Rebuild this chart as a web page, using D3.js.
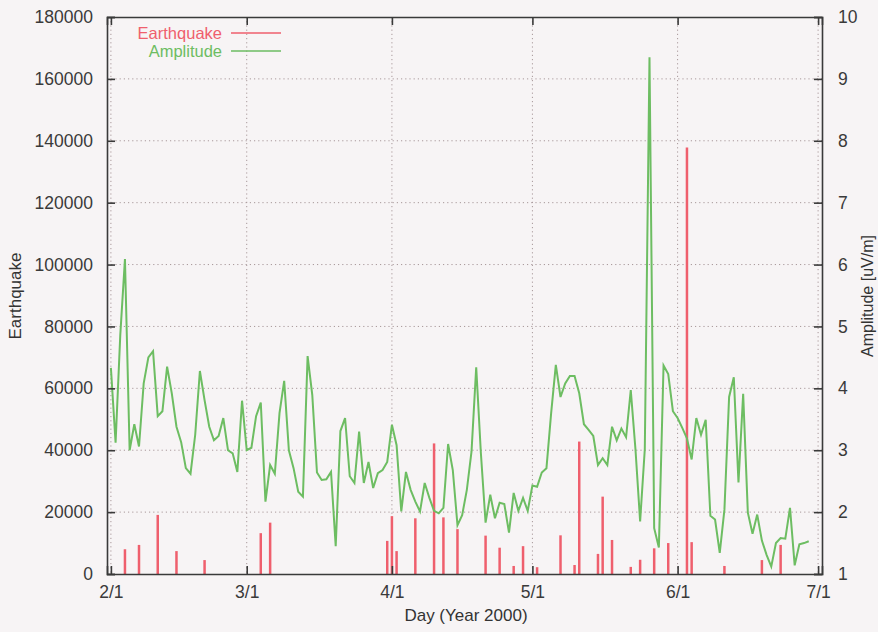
<!DOCTYPE html>
<html>
<head>
<meta charset="utf-8">
<script src="https://cdn.jsdelivr.net/npm/d3@7"></script>
<style>
  body { margin: 0; background: #f7f4f5; }
  svg { display: block; }
  text { font-family: "Liberation Sans", Arial, sans-serif; fill: #333; }
</style>
</head>
<body>
<div id="chart"></div>
<script>
// daily amplitude [uV/m], one value per day starting 2/1/2000
const startDay = new Date(2000, 1, 1);
const amplitude = [
  4.33, 3.12, 4.86, 6.09, 3.0, 3.42, 3.06, 4.08, 4.5, 4.6,
  3.55, 3.63, 4.35, 3.92, 3.38, 3.13, 2.71, 2.62, 3.25, 4.28,
  3.81, 3.38, 3.16, 3.23, 3.52, 3.0, 2.95, 2.65, 3.8, 3.0,
  3.04, 3.55, 3.77, 2.17, 2.76, 2.62, 3.6, 4.12, 3.0, 2.71,
  2.33, 2.25, 4.52, 3.89, 2.64, 2.52, 2.53, 2.65, 1.45, 3.31,
  3.52, 2.58, 2.47, 3.3, 2.47, 2.81, 2.39, 2.63, 2.68, 2.81,
  3.41, 3.08, 2.01, 2.65, 2.36, 2.17, 2.01, 2.47, 2.23, 2.02,
  1.98, 2.07, 3.1, 2.68, 1.79, 1.95, 2.36, 2.98, 4.34, 2.95,
  1.83, 2.28, 1.9, 2.15, 2.13, 1.67, 2.31, 2.02, 2.23, 2.02,
  2.43, 2.41, 2.64, 2.71, 3.6, 4.38, 3.86, 4.08, 4.2, 4.2,
  3.92, 3.42, 3.33, 3.23, 2.76, 2.87, 2.76, 3.38, 3.16, 3.35,
  3.21, 3.97, 3.02, 1.85, 3.02, 9.35, 1.74, 1.43, 4.37, 4.23,
  3.63, 3.52, 3.36, 3.19, 2.85, 3.52, 3.25, 3.49, 1.94, 1.88,
  1.34, 2.04, 3.86, 4.18, 2.48, 3.91, 1.99, 1.65, 1.96, 1.54,
  1.31, 1.12, 1.5, 1.58, 1.57, 2.07, 1.14, 1.48, 1.5, 1.53
];

// earthquake totals
const quakeDays = [
  "2/4", "2/7", "2/11", "2/15", "2/21", "3/4", "3/6", "3/31", "4/1", "4/2",
  "4/6", "4/10", "4/12", "4/15", "4/21", "4/24", "4/27", "4/29", "5/2", "5/7",
  "5/10", "5/11", "5/15", "5/16", "5/18", "5/22", "5/24", "5/27", "5/30", "6/3",
  "6/4", "6/11", "6/19", "6/23"
];
const quakeValues = [
  8000, 9400, 19100, 7400, 4500, 13200, 16600, 10700, 18700, 7400,
  18000, 42200, 18300, 14500, 12400, 8500, 2600, 9000, 2200, 12500,
  2900, 42800, 6500, 25000, 11000, 2300, 4600, 8300, 10000, 137800,
  10300, 2600, 4500, 9400
];

const xTickLabels = ["2/1", "3/1", "4/1", "5/1", "6/1", "7/1"];
const leftTicks = [0, 20000, 40000, 60000, 80000, 100000, 120000, 140000, 160000, 180000];
const rightTicks = [1, 2, 3, 4, 5, 6, 7, 8, 9, 10];

const toDate = s => { const p = s.split("/"); return new Date(2000, +p[0] - 1, +p[1]); };
const ampData = amplitude.map((v, i) => ({ date: d3.timeDay.offset(startDay, i), v: v }));
const quakeData = quakeDays.map((d, i) => ({ date: toDate(d), v: quakeValues[i] }));

const W = 878, H = 632;
const plot = { left: 107, right: 822, top: 17, bottom: 574 };
const red = "#ef5f6d", green = "#6dbd62", grid = "#a8989a", ink = "#3a3a3a";

const svg = d3.select("#chart").append("svg").attr("width", W).attr("height", H);

const x = d3.scaleTime()
  .domain([new Date(2000, 0, 31, 4), new Date(2000, 6, 1, 20)])
  .range([plot.left, plot.right]);
const yL = d3.scaleLinear().domain([0, 180000]).range([plot.bottom, plot.top]);
const yR = d3.scaleLinear().domain([1, 10]).range([plot.bottom, plot.top]);

// grid
svg.append("g").selectAll("line").data(leftTicks.slice(1, -1)).join("line")
  .attr("x1", plot.left).attr("x2", plot.right)
  .attr("y1", d => yL(d)).attr("y2", d => yL(d))
  .attr("stroke", grid).attr("stroke-width", 1).attr("stroke-dasharray", "1.2,3");
svg.append("g").selectAll("line").data(xTickLabels).join("line")
  .attr("x1", d => x(toDate(d))).attr("x2", d => x(toDate(d)))
  .attr("y1", plot.top).attr("y2", plot.bottom)
  .attr("stroke", grid).attr("stroke-width", 1).attr("stroke-dasharray", "1.2,3");

// earthquake bars
svg.append("g").selectAll("line").data(quakeData).join("line")
  .attr("x1", d => x(d.date)).attr("x2", d => x(d.date))
  .attr("y1", plot.bottom).attr("y2", d => yL(d.v))
  .attr("stroke", red).attr("stroke-width", 2.5);

// amplitude line
svg.append("path").datum(ampData)
  .attr("fill", "none").attr("stroke", green).attr("stroke-width", 2)
  .attr("d", d3.line().x(d => x(d.date)).y(d => yR(d.v)));

// axes (ticks point inward)
const xTicks = xTickLabels.map(toDate);
svg.append("g").attr("transform", `translate(0,${plot.bottom})`)
  .call(d3.axisBottom(x).tickValues(xTicks).tickSize(-8).tickPadding(12)
    .tickFormat(d3.timeFormat("%-m/%-d")));
svg.append("g").attr("transform", `translate(0,${plot.top})`)
  .call(d3.axisTop(x).tickValues(xTicks).tickSize(-8).tickFormat(""));
svg.append("g").attr("transform", `translate(${plot.left},0)`)
  .call(d3.axisLeft(yL).tickValues(leftTicks).tickSize(-8).tickPadding(14).tickFormat(d3.format("d")));
svg.append("g").attr("transform", `translate(${plot.right},0)`)
  .call(d3.axisRight(yR).tickValues(rightTicks).tickSize(-8).tickPadding(16).tickFormat(d3.format("d")));

svg.selectAll(".domain").attr("stroke", ink).attr("stroke-width", 1.6);
svg.selectAll(".tick line").attr("stroke", ink).attr("stroke-width", 1.6);
svg.selectAll(".tick text").style("font-size", "17.5px").style("fill", ink)
  .style("font-family", "'Liberation Sans', Arial, sans-serif");

// axis titles
svg.append("text").attr("x", 466).attr("y", 621).attr("text-anchor", "middle")
  .style("font-size", "17px").text("Day (Year 2000)");
svg.append("text").attr("transform", "translate(21,296) rotate(-90)").attr("text-anchor", "middle")
  .style("font-size", "17px").text("Earthquake");
svg.append("text").attr("transform", "translate(873,296) rotate(-90)").attr("text-anchor", "middle")
  .style("font-size", "16px").text("Amplitude [uV/m]");

// legend
const legend = [{ name: "Earthquake", color: red }, { name: "Amplitude", color: green }];
const lg = svg.append("g").selectAll("g").data(legend).join("g")
  .attr("transform", (d, i) => `translate(0,${33 + i * 18})`);
lg.append("text").attr("x", 222).attr("y", 5.5).attr("text-anchor", "end")
  .style("font-size", "16.5px").style("fill", d => d.color).text(d => d.name);
lg.append("line").attr("x1", 231).attr("x2", 281).attr("y1", 0).attr("y2", 0)
  .attr("stroke", d => d.color).attr("stroke-width", 1.6);
</script>
</body>
</html>
